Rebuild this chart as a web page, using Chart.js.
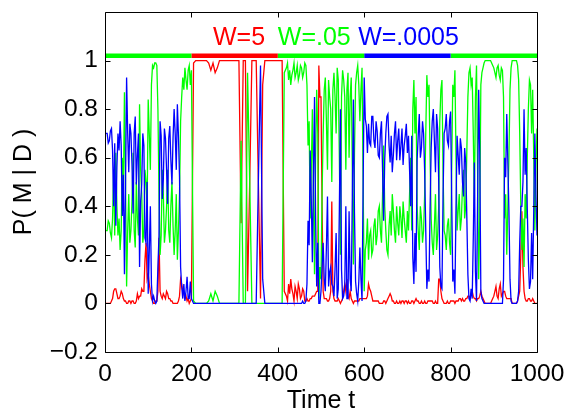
<!DOCTYPE html>
<html>
<head>
<meta charset="utf-8">
<script src="https://cdn.jsdelivr.net/npm/chart.js@4/dist/chart.umd.min.js"></script>
<style>
  html, body { margin: 0; padding: 0; background: #ffffff; }
  #wrap { width: 570px; height: 414px; }
</style>
</head>
<body>
<div id="wrap"><canvas id="c" width="570" height="414"></canvas></div>
<script>
// ---------------- data ----------------
const timeSteps = [
  0,2.5,5,7.5,10,12.5,15,17.5,20,22.5, 25,27.5,30,32.5,35,37.5,40,42.5,45,47.5,
  50,52.5,55,57.5,60,62.5,65,67.5,70,72.5, 75,77.5,80,82.5,85,87.5,90,92.5,95,97.5,
  100,102.5,105,107.5,110,112.5,115,117.5,120,122.5, 125,127.5,130,132.5,135,137.5,140,142.5,145,147.5,
  150,152.5,155,157.5,160,162.5,165,167.5,170,172.5, 175,177.5,180,182.5,185,187.5,190,192.5,195,197.5,
  200,
  205,210,215,220,225,230,235,240,245,250, 255,260,265,270,275,280,285,290,295,300,
  305,310,315,320,325,330,335,340,345,350, 355,360,365,370,375,380,385,390,395,400,
  405,410,415,420,
  422.5,425,427.5,430,432.5,435,437.5,440,442.5,445, 447.5,450,452.5,455,457.5,460,462.5,465,467.5,470,
  472.5,475,477.5,480,482.5,485,487.5,490,492.5,495, 497.5,500,502.5,505,507.5,510,512.5,515,517.5,520,
  522.5,525,527.5,530,532.5,535,537.5,540,542.5,545, 547.5,550,552.5,555,557.5,560,562.5,565,567.5,570,
  572.5,575,577.5,580,582.5,585,587.5,590,592.5,595, 597.5,600,602.5,605,607.5,610,612.5,615,617.5,620,
  622.5,625,627.5,630,632.5,635,637.5,640,642.5,645, 647.5,650,652.5,655,657.5,660,662.5,665,667.5,670,
  672.5,675,677.5,680,682.5,685,687.5,690,692.5,695, 697.5,700,702.5,705,707.5,710,712.5,715,717.5,720,
  722.5,725,727.5,730,732.5,735,737.5,740,742.5,745, 747.5,750,752.5,755,757.5,760,762.5,765,767.5,770,
  772.5,775,777.5,780,782.5,785,787.5,790,792.5,795, 797.5,800,802.5,805,807.5,810,812.5,815,817.5,820,
  822.5,825,827.5,830,832.5,835,837.5,840,842.5,845, 847.5,850,852.5,855,857.5,860,862.5,865,867.5,870,
  872.5,875,877.5,880,882.5,885,887.5,890,892.5,895, 897.5,900,902.5,905,907.5,910,912.5,915,917.5,920,
  922.5,925,927.5,930,932.5,935,937.5,940,942.5,945, 947.5,950,952.5,955,957.5,960,962.5,965,967.5,970,
  972.5,975,977.5,980,982.5,985,987.5,990,992.5,995, 997.5,1000
];

// P(M|D) for model W=5 (red)
const pW5 = [
  0,0,0,0,0,0,.01,.02,.05,.06, .06,.04,.02,.02,.03,.05,.04,.02,.01,.01,
  0,0,.01,.01,0,.01,.01,0,0,.01, .04,.02,.03,.03,.06,.05,.05,.18,.25,.10,
  .12,.08,.05,.02,.01,0,0,.01,.01,.05, .27,.05,.03,.02,.04,.03,.02,.05,.04,.02,
  .02,.01,.01,0,0,0,0,0,.01,.03, .10,.08,.05,.04,.02,.03,.01,.02,0,.01,
  .02,
  .99,1,1,1,1,1,1,.99,.96,.99, .95,.97,1,1,1,1,1,1,1,1,
  1,1,.33,1,1,.05,.50,1,1,1, .50,.02,.90,1,1,1,1,1,1,1,
  1,1,.05,.03,
  .01,.08,.04,.10,.06,.04,.01,.07,.05,.02, .08,.06,.02,.03,.06,.05,.01,.01,.02,.01,
  .01,.02,.02,.03,.03,.03,.04,.05,.05,.98, .85,.85,.40,.05,.02,.02,.02,.01,.01,.02,
  .05,.42,.05,.02,.01,.01,.01,.02,.01,0, .01,.02,.05,.08,.05,.10,.03,.02,.05,.02,
  .01,0,.01,.01,.01,.01,.01,.02,.02,.02, .02,.02,.02,.02,.03,.08,.06,.05,.03,.01,
  .01,.01,.01,.01,.01,0,0,0,0,.01, .01,0,.01,.02,.03,.04,.03,.01,.01,0,
  0,.01,0,0,.01,0,.01,.01,0,.01, .01,0,.01,0,0,.01,.01,0,.01,.02,
  .01,.01,0,0,.01,0,0,.01,0,0, .01,.01,.01,.01,.01,0,0,.01,0,0,
  .10,.10,.05,.02,.01,0,0,0,.01,0, 0,.01,.01,.01,.01,0,.01,.01,.01,.02,
  .02,.01,.02,.01,.01,.02,.02,.03,.03,.02, .04,.05,.03,.02,.02,.01,.02,.02,.03,.05,
  .03,.02,.01,0,0,0,0,0,0,.01, .02,.03,.05,.07,.03,.02,.06,.08,.03,.04,
  .05,.05,.03,.02,.02,.02,.02,.02,0,0, 0,0,0,.01,.03,.05,.20,.38,.15,.05,
  .02,.01,.01,.02,.02,.01,.01,.02,.01,0, 0,0
];

// P(M|D) for model W=.05 (green)
const pW05 = [
  .30,.30,.30,.34,.33,.29,.27,.35,.55,.28, .62,.40,.28,.35,.22,.30,.60,.45,.87,.50,
  .07,.30,.45,.25,.30,.42,.62,.30,.23,.50, .35,.28,.82,.55,.45,.25,.30,.55,.50,.40,
  .84,.70,.55,.90,.98,.97,.99,.99,.98,.80, .45,.20,.28,.55,.45,.25,.30,.40,.55,.30,
  .25,.40,.50,.32,.20,.30,.45,.18,.30,.45, .75,.85,.93,.88,.97,.92,.88,.96,.98,.90,
  .96,
  .01,0,0,0,0,0,0,.01,.04,.01, .05,.03,0,0,0,0,0,0,0,0,
  0,0,.67,0,0,.95,.50,0,0,0, 0,0,0,0,0,0,0,0,0,0,
  0,0,.95,.97,
  .99,.92,.96,.90,.94,.96,.99,.93,.95,.98, .92,.94,.98,.97,.93,.95,.99,.98,.90,.65,
  .75,.35,.55,.80,.45,.12,.60,.88,.70,.02, .15,.10,.45,.70,.88,.93,.75,.55,.92,.85,
  .80,.50,.88,.95,.85,.70,.97,.92,.60,.20, .85,.96,.92,.85,.55,.88,.95,.60,.85,.93,
  .55,.16,.62,.90,.95,.98,.90,.75,.88,.97, .50,.05,.22,.25,.35,.18,.28,.30,.20,.22,
  .32,.35,.24,.28,.38,.40,.30,.25,.45,.65, .40,.30,.22,.20,.32,.38,.28,.45,.38,.30,
  .25,.40,.33,.28,.40,.35,.27,.42,.35,.30, .25,.38,.30,.45,.60,.30,.80,.92,.70,.85,
  .40,.30,.22,.40,.35,.25,.30,.45,.70,.94, .85,.90,.60,.35,.25,.20,.32,.45,.22,.28,
  .40,.75,.88,.92,.55,.30,.28,.22,.32,.35, .25,.20,.55,.90,.85,.96,.60,.30,.38,.45,
  .30,.35,.48,.55,.35,.40,.62,.85,.95,.97, .90,.93,.70,.40,.85,.98,.55,.10,.35,.90,
  .95,.97,.99,1,1,1,1,1,1,.99, .98,.97,.95,.93,.97,.98,.94,.92,.97,.96,
  .85,.35,.45,.20,.40,.60,.88,.97,1,1, 1,1,1,.98,.92,.70,.40,.22,.35,.15,
  .45,.35,.60,.80,.92,.90,.70,.88,.60,.30, .55,.72
];

// P(M|D) for model W=.0005 (blue)
const pW0005 = [
  .70,.70,.70,.66,.67,.71,.72,.63,.40,.66, .32,.56,.70,.63,.75,.65,.36,.53,.12,.49,
  .93,.70,.54,.74,.70,.57,.37,.70,.77,.49, .61,.70,.15,.42,.49,.70,.65,.27,.25,.50,
  .04,.22,.40,.08,.01,.03,.01,0,.01,.15, .28,.75,.69,.43,.51,.72,.68,.55,.41,.68,
  .73,.59,.49,.68,.80,.70,.55,.82,.69,.52, .15,.07,.02,.08,.01,.05,.11,.02,.02,.09,
  .02,
  0,0,0,0,0,0,0,0,0,0, 0,0,0,0,0,0,0,0,0,0,
  0,0,0,0,0,0,0,0,0,0, .50,.98,.10,0,0,0,0,0,0,0,
  0,0,0,0,
  0,0,0,0,0,0,0,0,0,0, 0,0,0,0,.01,0,0,.01,.08,.34,
  .24,.63,.43,.17,.52,.85,.36,.07,.25,0, 0,.05,.15,.25,.10,.05,.23,.44,.07,.13,
  .15,.08,.07,.03,.14,.29,.02,.06,.39,.80, .14,.02,.03,.07,.40,.02,.02,.38,.10,.05,
  .44,.84,.37,.09,.04,.01,.09,.23,.10,.01, .48,.93,.76,.73,.62,.74,.66,.65,.77,.77,
  .67,.64,.75,.71,.61,.60,.70,.75,.55,.34, .59,.70,.77,.78,.65,.58,.69,.54,.61,.70,
  .75,.59,.67,.72,.59,.65,.72,.57,.65,.69, .74,.62,.69,.55,.40,.69,.19,.08,.29,.13,
  .59,.69,.78,.60,.64,.75,.70,.54,.30,.06, .14,.09,.39,.64,.75,.80,.67,.54,.78,.72,
  .50,.15,.07,.06,.44,.70,.72,.78,.67,.65, .75,.79,.44,.09,.14,.04,.39,.69,.61,.53,
  .68,.64,.50,.44,.64,.58,.36,.12,.02,.01, .06,.02,.27,.58,.13,.01,.43,.88,.62,.05,
  .02,.01,0,0,0,0,0,0,0,0, 0,0,0,0,0,0,0,0,0,0,
  .10,.60,.52,.78,.58,.38,.10,.01,0,0, 0,0,0,.01,.05,.25,.40,.40,.50,.80,
  .53,.64,.39,.18,.06,.09,.29,.10,.39,.70, .45,.28
];

// true generating regime (bar at top of plot)
const regimeBounds = [0, 200, 400, 600, 800, 1000];
const regimeModel  = ['W=.05', 'W=5', 'W=.05', 'W=.0005', 'W=.05'];
const regimeLevel  = 1.02;

// model names / colours
const modelNames  = ['W=5', 'W=.05', 'W=.0005'];
const modelColors = {'W=5': '#ff0000', 'W=.05': '#00ff00', 'W=.0005': '#0000ff'};
const modelLabelT = [250, 400, 586];
const modelLabelV = 1.063;

// axes
const xTicks = [0, 200, 400, 600, 800, 1000];
const xTickLabels = ['0', '200', '400', '600', '800', '1000'];
const yTicks = [-0.2, 0, 0.2, 0.4, 0.6, 0.8, 1];
const yTickLabels = ['\u22120.2', '0', '0.2', '0.4', '0.6', '0.8', '1'];
const xTitle = 'Time t';
const yTitle = 'P( M | D )';

// ---------------- chart ----------------
const FONT = "'Liberation Sans', Arial, Helvetica, sans-serif";
const toPts = (arr) => timeSteps.map((t, i) => ({x: t, y: arr[i]}));

const datasets = [
  {label: 'W=.0005', data: toPts(pW0005), borderColor: modelColors['W=.0005'], order: 1},
  {label: 'W=.05',   data: toPts(pW05),   borderColor: modelColors['W=.05'],   order: 2},
  {label: 'W=5',     data: toPts(pW5),    borderColor: modelColors['W=5'],     order: 3}
].map(d => Object.assign(d, {borderWidth: 1.3, pointRadius: 0, tension: 0, fill: false}));

regimeModel.forEach((m, i) => {
  datasets.push({
    label: 'regime ' + i,
    data: [{x: regimeBounds[i], y: regimeLevel}, {x: regimeBounds[i + 1], y: regimeLevel}],
    borderColor: modelColors[m], borderWidth: 4.5, pointRadius: 0,
    borderCapStyle: 'butt', order: 0, clip: false
  });
});

const framePlugin = {
  id: 'frame',
  afterDraw(chart) {
    const {ctx, chartArea: a, scales: {x, y}} = chart;
    const L = Math.round(a.left) + 0.5, R = Math.round(a.right) + 0.5;
    const T = Math.round(a.top) + 0.5, B = Math.round(a.bottom) + 0.5;
    const tl = 5;
    ctx.save();
    ctx.strokeStyle = '#000';
    ctx.lineWidth = 1;
    ctx.beginPath();
    ctx.rect(L, T, R - L, B - T);
    xTicks.forEach(v => {
      const px = Math.round(x.getPixelForValue(v)) + 0.5;
      ctx.moveTo(px, B); ctx.lineTo(px, B - tl);
      ctx.moveTo(px, T); ctx.lineTo(px, T + tl);
    });
    yTicks.forEach(v => {
      const py = Math.round(y.getPixelForValue(v)) + 0.5;
      ctx.moveTo(L, py); ctx.lineTo(L + tl, py);
      ctx.moveTo(R, py); ctx.lineTo(R - tl, py);
    });
    ctx.stroke();
    ctx.font = '25px ' + FONT;
    ctx.textBaseline = 'alphabetic';
    ctx.textAlign = 'left';
    modelNames.forEach((n, i) => {
      ctx.fillStyle = modelColors[n];
      ctx.fillText(n, x.getPixelForValue(modelLabelT[i]), y.getPixelForValue(modelLabelV));
    });
    ctx.restore();
  }
};

new Chart(document.getElementById('c'), {
  type: 'line',
  data: {datasets},
  options: {
    responsive: false,
    animation: false,
    devicePixelRatio: 1,
    events: [],
    layout: {padding: {top: 12, right: 33, bottom: 0, left: 0}},
    plugins: {legend: {display: false}, tooltip: {enabled: false}},
    scales: {
      x: {
        type: 'linear', min: 0, max: 1000,
        afterBuildTicks: s => { s.ticks = xTicks.map(v => ({value: v})); },
        afterFit: s => { s.height = 62; s.paddingLeft = 0; s.paddingRight = 0; },
        grid: {display: false, drawTicks: false},
        border: {display: false},
        ticks: {padding: 10, color: '#000', font: {family: FONT, size: 24.5, lineHeight: 1},
                maxRotation: 0, autoSkip: false, callback: (v, i) => xTickLabels[i]},
        title: {display: true, text: xTitle, color: '#000', padding: {top: 0, bottom: 0},
                font: {family: FONT, size: 25, lineHeight: 1}}
      },
      y: {
        type: 'linear', min: -0.2, max: 1.2,
        afterBuildTicks: s => { s.ticks = yTicks.map(v => ({value: v})); },
        afterFit: s => { s.width = 105; s.paddingTop = 0; s.paddingBottom = 0; },
        grid: {display: false, drawTicks: false},
        border: {display: false},
        ticks: {padding: 7, color: '#000', font: {family: FONT, size: 24.5, lineHeight: 1},
                autoSkip: false, callback: (v, i) => yTickLabels[i]},
        title: {display: true, text: yTitle, color: '#000', padding: {top: 12, bottom: 0},
                font: {family: FONT, size: 25, lineHeight: 1}}
      }
    }
  },
  plugins: [framePlugin]
});
</script>
</body>
</html>
